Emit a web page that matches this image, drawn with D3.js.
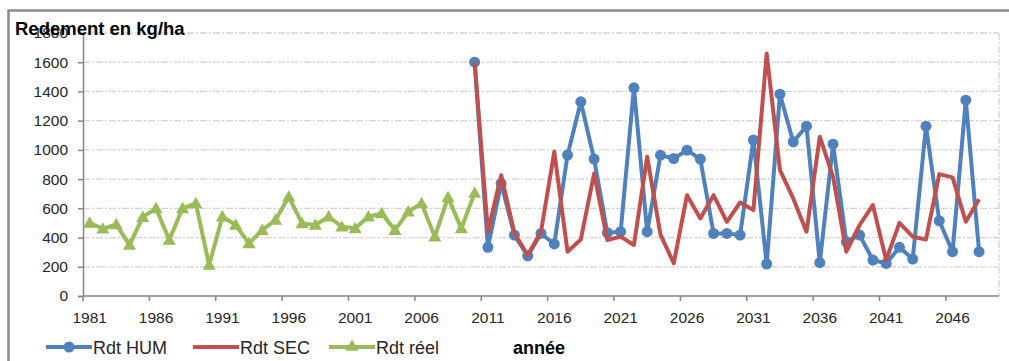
<!DOCTYPE html>
<html>
<head>
<meta charset="utf-8">
<script src="https://cdn.jsdelivr.net/npm/d3@7"></script>
<style>
  body { margin: 0; background: #fff; }
  text { font-family: "Liberation Sans", Arial, sans-serif; fill: #262626; }
</style>
</head>
<body>
<svg id="chart" width="1009" height="361"></svg>
<script>
// years on the category axis (last one is empty)
var years = d3.range(1981, 2050);
var tickYears = d3.range(1981, 2050, 5);
var yTicks = d3.range(0, 1801, 200);

// Rdt réel, 1981 - 2010
var reelYears = d3.range(1981, 2011);
var rdtReel = [500, 460, 490, 350, 540, 600, 383, 600, 634, 212,
               543, 486, 360, 451, 520, 679, 497, 486, 543, 474,
               463, 543, 565, 451, 577, 634, 406, 675, 463, 705];

// Rdt HUM and Rdt SEC, 2010 - 2048
var projYears = d3.range(2010, 2049);
var rdtHum = [1600, 333, 770, 417, 274, 428, 356, 965, 1329, 937,
              433, 440, 1425, 440, 964, 941, 998, 937, 428, 428,
              417, 1067, 219, 1381, 1055, 1162, 228, 1039, 371, 417,
              246, 223, 333, 253, 1162, 515, 303, 1340, 303];
var rdtSec = [1600, 440, 827, 430, 280, 440, 987, 303, 387, 838,
              383, 406, 349, 953, 420, 224, 690, 531, 690, 508,
              640, 588, 1659, 862, 668, 440, 1090, 816, 303, 486,
              622, 246, 501, 406, 387, 834, 812, 508, 662];

var seriesNames = ['Rdt HUM', 'Rdt SEC', 'Rdt réel'];
var colors = ['#4F81BD', '#C0504D', '#9BBB59'];

var svg = d3.select('#chart');
var plot = { left: 83, right: 999, top: 33, bottom: 296 };

// outer chart frame (runs off the picture on the right and bottom)
svg.append('rect')
   .attr('x', 8.5).attr('y', 10.5)
   .attr('width', 1100).attr('height', 400)
   .attr('fill', 'none')
   .attr('stroke', '#8c8c8c')
   .attr('stroke-width', 2.5);

var x = d3.scaleBand()
          .domain(years)
          .range([plot.left, plot.right])
          .padding(0);

var y = d3.scaleLinear()
          .domain([0, 1800])
          .range([plot.bottom, plot.top]);

var cx = d => x(d) + x.bandwidth() / 2;

// gridlines
svg.selectAll('.grid')
   .data(yTicks.filter(d => d > 0))
   .join('line')
   .classed('grid', true)
   .attr('x1', plot.left).attr('x2', plot.right)
   .attr('y1', d => y(d)).attr('y2', d => y(d))
   .attr('stroke', '#d4d4d4')
   .attr('stroke-width', 1.3)
   .attr('stroke-dasharray', '7,2,2,2');

// plot area right edge
svg.append('line')
   .attr('x1', plot.right).attr('x2', plot.right)
   .attr('y1', plot.top).attr('y2', plot.bottom)
   .attr('stroke', '#d4d4d4')
   .attr('stroke-width', 1.3)
   .attr('stroke-dasharray', '7,2,2,2');

// y axis
var yAxis = d3.axisLeft(y)
              .tickValues(yTicks)
              .tickFormat(d3.format('d'))
              .tickSize(5)
              .tickPadding(10);
var gy = svg.append('g')
            .attr('transform', `translate(${plot.left},0)`)
            .call(yAxis);
gy.select('.domain').attr('stroke', '#868686').attr('stroke-width', 1.5);
gy.selectAll('.tick line').attr('stroke', '#868686').attr('stroke-width', 1.5);
gy.selectAll('.tick text')
  .style('font-size', '15.5px')
  .style('font-family', '"Liberation Sans", Arial, sans-serif')
  .attr('fill', '#262626');

// x axis line and tick marks at category starts
svg.append('line')
   .attr('x1', plot.left).attr('x2', plot.right)
   .attr('y1', plot.bottom).attr('y2', plot.bottom)
   .attr('stroke', '#868686').attr('stroke-width', 1.5);

svg.selectAll('.xtick')
   .data(tickYears)
   .join('line')
   .classed('xtick', true)
   .attr('x1', d => x(d)).attr('x2', d => x(d))
   .attr('y1', plot.bottom).attr('y2', plot.bottom + 5)
   .attr('stroke', '#868686').attr('stroke-width', 1.5);

svg.selectAll('.xlabel')
   .data(tickYears)
   .join('text')
   .classed('xlabel', true)
   .attr('x', d => cx(d))
   .attr('y', 323)
   .attr('text-anchor', 'middle')
   .style('font-size', '15.5px')
   .text(d => d);

// series
var line = d3.line()
             .defined(d => d.v != null)
             .x(d => cx(d.year))
             .y(d => y(d.v));

var humData = projYears.map((yr, i) => ({ year: yr, v: rdtHum[i] }));
var secData = projYears.map((yr, i) => ({ year: yr, v: rdtSec[i] }));
var reelData = reelYears.map((yr, i) => ({ year: yr, v: rdtReel[i] }));

var triangle = d3.symbol().type(d3.symbolTriangle).size(75);

function drawSeries(data, color, marker) {
    var g = svg.append('g');
    g.append('path')
     .datum(data)
     .attr('d', line)
     .attr('fill', 'none')
     .attr('stroke', color)
     .attr('stroke-width', 4)
     .attr('stroke-linejoin', 'round');
    if (marker == 'circle') {
        g.selectAll('circle')
         .data(data)
         .join('circle')
         .attr('cx', d => cx(d.year))
         .attr('cy', d => y(d.v))
         .attr('r', 5.5)
         .attr('fill', color);
    } else if (marker == 'triangle') {
        g.selectAll('path.mk')
         .data(data)
         .join('path')
         .classed('mk', true)
         .attr('transform', d => `translate(${cx(d.year)},${y(d.v) + 1})`)
         .attr('d', triangle)
         .attr('fill', color);
    }
}

drawSeries(humData, colors[0], 'circle');
drawSeries(secData, colors[1], null);
drawSeries(reelData, colors[2], 'triangle');

// titles (the y title sits over the 1800 label, as in the original)
svg.append('text')
   .attr('x', 15).attr('y', 35)
   .style('font-size', '18.5px')
   .style('font-weight', 'bold')
   .style('fill', '#000')
   .text('Redement en kg/ha');

svg.append('text')
   .attr('x', 513).attr('y', 354)
   .style('font-size', '18px')
   .style('font-weight', 'bold')
   .style('fill', '#000')
   .text('année');

// legend
var legendX = [46, 193, 329];
var legend = svg.selectAll('.legend')
                .data(seriesNames)
                .join('g')
                .classed('legend', true)
                .attr('transform', (d, i) => `translate(${legendX[i]},347)`);

legend.append('line')
      .attr('x1', 0).attr('x2', 46)
      .attr('y1', 0).attr('y2', 0)
      .attr('stroke', (d, i) => colors[i])
      .attr('stroke-width', 4);

legend.filter((d, i) => i == 0)
      .append('circle')
      .attr('cx', 23).attr('cy', 0).attr('r', 5.5)
      .attr('fill', colors[0]);

legend.filter((d, i) => i == 2)
      .append('path')
      .attr('transform', 'translate(23,0)')
      .attr('d', triangle)
      .attr('fill', colors[2]);

legend.append('text')
      .attr('x', 47).attr('y', 7)
      .style('font-size', '18px')
      .text(d => d);
</script>
</body>
</html>
